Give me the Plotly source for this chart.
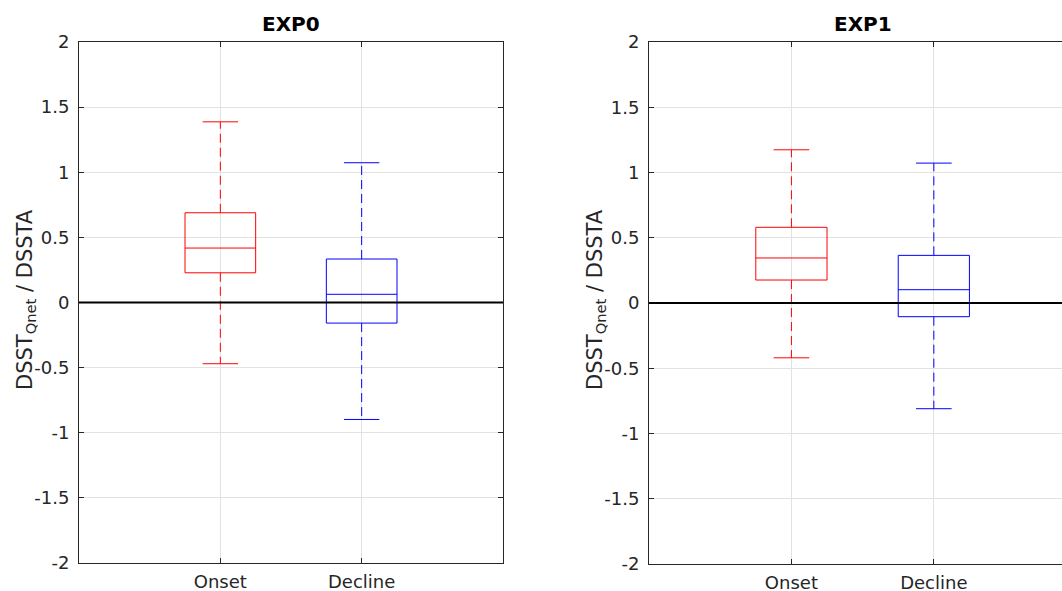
import plotly.graph_objects as go

categories = ["Onset", "Decline"]
cat_pos = [1, 2]
# [lower whisker, Q1, median, Q3, upper whisker]
exp0_onset = [-0.47, 0.228, 0.418, 0.689, 1.387]
exp0_decline = [-0.898, -0.158, 0.063, 0.334, 1.073]
exp1_onset = [-0.42, 0.176, 0.345, 0.58, 1.174]
exp1_decline = [-0.81, -0.105, 0.102, 0.365, 1.072]
titles = ["EXP0", "EXP1"]
ytick_vals = [-2, -1.5, -1, -0.5, 0, 0.5, 1, 1.5, 2]
ytick_text = ["-2", "-1.5", "-1", "-0.5", "0", "0.5", "1", "1.5", "2"]
colors = ["#ff0000", "#0000ff"]

W, H = 1062, 591
fig = go.Figure()

BOX_HW = 0.25
CAP_HW = 0.125


def add_box(stats, xpos, color, xa, ya):
    lo, q1, med, q3, hi = stats
    common = dict(mode="lines", xaxis=xa, yaxis=ya, showlegend=False, hoverinfo="skip")
    # whiskers (dashed)
    fig.add_trace(go.Scatter(x=[xpos, xpos, None, xpos, xpos], y=[q3, hi, None, q1, lo],
                             line=dict(color=color, width=1, dash="9px,5px"), **common))
    # caps
    fig.add_trace(go.Scatter(x=[xpos - CAP_HW, xpos + CAP_HW, None, xpos - CAP_HW, xpos + CAP_HW],
                             y=[hi, hi, None, lo, lo], line=dict(color=color, width=1), **common))
    # box
    fig.add_trace(go.Scatter(x=[xpos - BOX_HW, xpos + BOX_HW, xpos + BOX_HW, xpos - BOX_HW, xpos - BOX_HW],
                             y=[q1, q1, q3, q3, q1], line=dict(color=color, width=1), **common))
    # median
    fig.add_trace(go.Scatter(x=[xpos - BOX_HW, xpos + BOX_HW], y=[med, med],
                             line=dict(color=color, width=1), **common))


add_box(exp0_onset, cat_pos[0], colors[0], "x", "y")
add_box(exp0_decline, cat_pos[1], colors[1], "x", "y")
add_box(exp1_onset, cat_pos[0], colors[0], "x2", "y2")
add_box(exp1_decline, cat_pos[1], colors[1], "x2", "y2")

axcol = "#262626"
gridcol = "#e2e2e2"
font = "DejaVu Sans"

xcommon = dict(tickmode="array", tickvals=cat_pos, ticktext=categories, showgrid=True, gridcolor=gridcol,
               showline=True, linecolor=axcol, linewidth=1, ticks="inside", ticklen=5, tickcolor=axcol,
               zeroline=False, tickfont=dict(family=font, size=18, color=axcol), ticklabelstandoff=2,
               automargin=False)
ycommon = dict(range=[-2, 2], tickmode="array", tickvals=ytick_vals, ticktext=ytick_text, showgrid=True,
               gridcolor=gridcol, showline=True, linecolor=axcol, linewidth=1, ticks="inside", ticklen=5,
               tickcolor=axcol, zeroline=False, tickfont=dict(family=font, size=18, color=axcol),
               ticklabelstandoff=5, automargin=False)

fig.update_layout(
    template=None,
    width=W, height=H, margin=dict(l=0, r=0, t=0, b=0, autoexpand=False),
    paper_bgcolor="white", plot_bgcolor="white",
    xaxis=dict(domain=[79 / W, 503 / W], range=[0, 3], mirror="allticks", **xcommon),
    yaxis=dict(domain=[1 - 563 / H, 1 - 42 / H], anchor="x", mirror="allticks", **ycommon),
    xaxis2=dict(domain=[649 / W, 1.0], range=[0, 2.9], anchor="y2", mirror="allticks", **xcommon),
    yaxis2=dict(domain=[1 - 564 / H, 1 - 42 / H], anchor="x2", mirror=False, **ycommon),
)

# zero lines
for xr, yr in [("x domain", "y"), ("x2 domain", "y2")]:
    fig.add_shape(type="line", xref=xr, yref=yr, x0=0, x1=1, y0=0, y1=0,
                  line=dict(color="black", width=2), layer="above")

# titles
for i, (xr, yr) in enumerate([("x", "y domain"), ("x2", "y2 domain")]):
    fig.add_annotation(text="<b>" + titles[i] + "</b>", xref=xr, yref=yr, x=1.5, y=1.0,
                       xanchor="center", yanchor="bottom", yshift=4, showarrow=False,
                       font=dict(family=font, size=20, color="black"))

# y-axis titles
for xp in [26, 596]:
    fig.add_annotation(text="DSST<sub>Qnet</sub> / DSSTA", xref="paper", yref="paper",
                       x=xp / W, y=1 - 300 / H, xanchor="center", yanchor="middle",
                       textangle=-90, showarrow=False,
                       font=dict(family=font, size=21, color=axcol))

fig.write_html("out.html")
